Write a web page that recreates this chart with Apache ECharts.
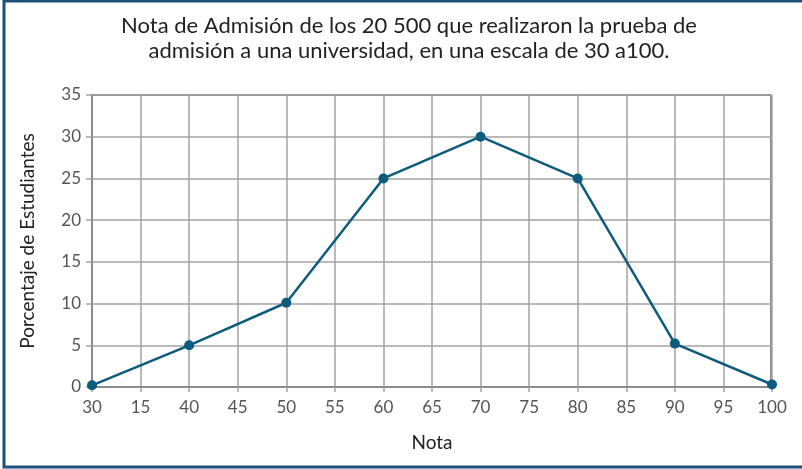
<!DOCTYPE html>
<html>
<head>
<meta charset="utf-8">
<script src="https://cdn.jsdelivr.net/npm/echarts@6/dist/echarts.min.js"></script>
<style>
    html, body { margin: 0; padding: 0; background: #fff; }
    #chart { width: 802px; height: 469px; }
</style>
</head>
<body>
<div id="chart"></div>
<script>
// valores
const notas = [30, 40, 50, 60, 70, 80, 90, 100];
const porcentajes = [0.2, 5, 10.1, 25, 30, 25, 5.2, 0.3];
// etiquetas del eje x tal como aparecen (incluye el "15" del original)
const xTickLabels = ['30', '15', '40', '45', '50', '55', '60', '65', '70', '75', '80', '85', '90', '95', '100'];

const lineColor = '#0d5b7d';
const gridColor = '#a3a3a3';
const borderColor = '#8a8a8a';
const font = 'Lato, "Noto Sans", sans-serif';

let chartDom = document.getElementById('chart');
let myChart = echarts.init(chartDom);

const option = {
    animation: false,
    title: {
        text: 'Nota de Admisión de los 20 500 que realizaron la prueba de\nadmisión a una universidad, en una escala de 30 a100.',
        left: 404,
        top: 8,
        textAlign: 'center',
        textStyle: {
            fontFamily: font,
            fontSize: 22,
            fontWeight: 'normal',
            color: '#222',
            lineHeight: 25,
        },
    },
    graphic: [
        {
            type: 'rect',
            silent: true,
            shape: {x: 4, y: 1, width: 820, height: 466},
            style: {fill: 'none', stroke: '#1d4f7a', lineWidth: 3},
        },
        {
            type: 'rect',
            silent: true,
            shape: {x: 771, y: 95, width: 0, height: 292},
            style: {fill: 'none', stroke: borderColor, lineWidth: 2},
        },
        {
            type: 'rect',
            silent: true,
            shape: {x: 92, y: 95, width: 679, height: 0},
            style: {fill: 'none', stroke: borderColor, lineWidth: 2},
        },
    ],
    grid: {
        left: 92,
        right: 30,
        top: 95,
        bottom: 82,
    },
    xAxis: {
        type: 'value',
        min: 30,
        max: 100,
        interval: 5,
        name: 'Nota',
        nameLocation: 'middle',
        nameGap: 46,
        nameTextStyle: {fontFamily: font, fontSize: 19, color: '#222'},
        axisLine: {show: true, lineStyle: {color: borderColor, width: 2}},
        axisTick: {show: true, length: 5, lineStyle: {color: gridColor, width: 1.5}},
        axisLabel: {
            fontFamily: font,
            fontSize: 17,
            color: '#555',
            margin: 12,
            formatter: v => xTickLabels[Math.round((v - 30) / 5)],
        },
        splitLine: {show: true, lineStyle: {color: gridColor, width: 1.5}},
    },
    yAxis: {
        type: 'value',
        min: 0,
        max: 35,
        interval: 5,
        name: 'Porcentaje de Estudiantes',
        nameLocation: 'middle',
        nameGap: 55,
        nameTextStyle: {fontFamily: font, fontSize: 19, color: '#222'},
        axisLine: {show: true, lineStyle: {color: borderColor, width: 2}},
        axisTick: {show: true, length: 6, lineStyle: {color: gridColor, width: 1.5}},
        axisLabel: {fontFamily: font, fontSize: 17, color: '#555', margin: 11},
        splitLine: {show: true, lineStyle: {color: gridColor, width: 1.5}},
    },
    series: [
        {
            type: 'line',
            data: notas.map((n, i) => [n, porcentajes[i]]),
            color: lineColor,
            lineStyle: {width: 2.5, color: lineColor},
            symbol: 'circle',
            symbolSize: 10,
            itemStyle: {color: lineColor},
            clip: false,
            z: 5,
        },
    ],
};

myChart.setOption(option);
</script>
</body>
</html>
